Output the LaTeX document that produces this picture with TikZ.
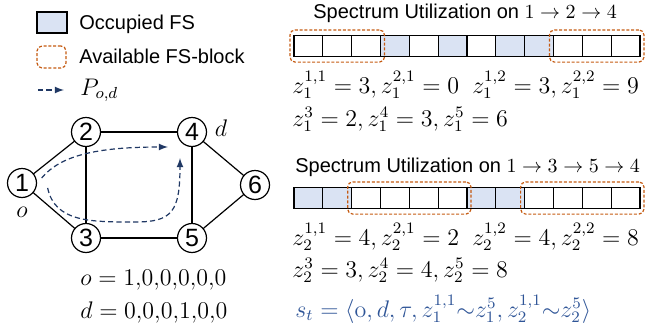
\documentclass[tikz,border=0pt]{standalone}
\usepackage[no-math]{fontspec}
\setmainfont{Liberation Sans}
\usepackage{amsmath}
\usepackage{tikz}
\usetikzlibrary{arrows,positioning,fit}
\usepackage{tkz-graph}

\definecolor{usedfs}{HTML}{DAE3F3}
\definecolor{blockorange}{HTML}{C55A11}
\definecolor{pathblue}{HTML}{203864}
\definecolor{stateblue}{HTML}{2F5597}

\begin{document}
\begin{tikzpicture}[x=0.5pt,y=0.5pt,
    slot/.style={draw,line width=0.6pt,minimum width=14.42pt,minimum height=10.5pt,inner sep=0pt,outer sep=0pt},
    used/.style={slot,fill=usedfs},
    freeblock/.style={draw=blockorange,dash pattern=on 1.5pt off 0.9pt,line width=0.6pt,rounded corners=2.5pt,inner xsep=2pt,inner ysep=2.8pt},
    pathline/.style={pathblue,dash pattern=on 2.6pt off 1.6pt,line width=0.6pt,-latex},
    eqn/.style={anchor=base west,inner sep=0pt,font=\fontsize{12}{14}\selectfont},
    txt/.style={anchor=base west,inner sep=0pt,font=\fontsize{10}{12}\selectfont}]
    \useasboundingbox (0,0) rectangle (645,334);

    % legend
    \node[used,minimum width=15pt] (occ) at (52,311.5) {};
    \node[txt] (occtxt) at (79,305) {Occupied FS};
    \node[freeblock,minimum width=14.5pt,minimum height=11pt,inner sep=0pt] (avail) at (51.5,277) {};
    \node[txt] (availtxt) at (79,271) {Available FS-block};
    \coordinate (la) at (38,244);
    \coordinate (lb) at (64,244);
    \draw[pathline] (la) -- (lb);
    \node[eqn] (pod) at (80,239) {$P_{o,d}$};

    % network
    \GraphInit[vstyle=Normal]
    \tikzset{VertexStyle/.style={draw,circle,fill=white,line width=0.6pt,minimum size=14.5pt,inner sep=0pt,font=\fontsize{12.5}{14}\selectfont}}
    \SetGraphUnit{106}
    \Vertex[x=86,y=202]{2}
    \EA(2){4}
    \SO(2){3}
    \SO(4){5}
    \Vertex[x=22,y=151]{1}
    \Vertex[x=255,y=149]{6}

    \SetUpEdge[lw=0.6pt,color=black]
    \Edge(1)(2)
    \Edge(1)(3)
    \Edge(2)(4)
    \Edge(2)(3)
    \Edge(4)(5)
    \Edge(3)(5)
    \Edge(4)(6)
    \Edge(5)(6)

    \node[eqn,anchor=west,right=4pt of 4,yshift=2pt] (dlab) {$d$};
    \node[eqn,anchor=north,below=4.5pt of 1] (olab) {$o$};

    % candidate paths
    \coordinate (p1) at (168,187);
    \coordinate (p2) at (180,176);
    \draw[pathline] ([xshift=3pt]1.20) .. controls (60,178) and (95,187) .. (p1);
    \draw[pathline] ([xshift=6pt]1.-20) .. controls (55,112) and (90,112) .. (135,112)
        .. controls (172,112) and (180,122) .. (p2);

    \node[eqn] (oeq) at (80,49) {$o = 1{,}0{,}0{,}0{,}0{,}0$};
    \node[eqn] (deq) at (80,16) {$d = 0{,}0{,}0{,}1{,}0{,}0$};

    % spectrum on 1-2-4
    \node[txt] (title1) at (313,316) {Spectrum Utilization on $1\rightarrow 2\rightarrow 4$};
    \foreach \i/\s in {1/slot,2/slot,3/slot,4/used,5/slot,6/used,7/slot,8/used,9/used,10/slot,11/slot,12/slot}
        \node[\s] (a\i) at ({294+(\i-0.5)*28.83},288) {};
    \node[freeblock,fit=(a1)(a3)] (fa1) {};
    \node[freeblock,fit=(a10)(a12)] (fa2) {};
    \node[eqn] (z1a) at (292,241) {$z_1^{1,1}=3, z_1^{2,1}=0 \hspace{0.55em} z_1^{1,2}=3, z_1^{2,2}=9$};
    \node[eqn] (z1b) at (292,208) {$z_1^{3}=2, z_1^{4}=3, z_1^{5}=6$};

    % spectrum on 1-3-5-4
    \node[txt] (title2) at (295,162) {Spectrum Utilization on $1\rightarrow 3\rightarrow 5\rightarrow 4$};
    \foreach \i/\s in {1/used,2/used,3/slot,4/slot,5/slot,6/slot,7/used,8/used,9/slot,10/slot,11/slot,12/slot}
        \node[\s] (b\i) at ({294+(\i-0.5)*28.83},136) {};
    \node[freeblock,fit=(b3)(b6)] (fb1) {};
    \node[freeblock,fit=(b9)(b12)] (fb2) {};
    \node[eqn] (z2a) at (292,89) {$z_2^{1,1}=4, z_2^{2,1}=2 \hspace{0.55em} z_2^{1,2}=4, z_2^{2,2}=8$};
    \node[eqn] (z2b) at (292,57) {$z_2^{3}=3, z_2^{4}=4, z_2^{5}=8$};

    \node[eqn,text=stateblue] (st) at (295,17) {$s_t=\langle \mathrm{o}, d, \tau, z_1^{1,1}{\sim}z_1^5, z_2^{1,1}{\sim}z_2^5\rangle$};
\end{tikzpicture}
\end{document}
